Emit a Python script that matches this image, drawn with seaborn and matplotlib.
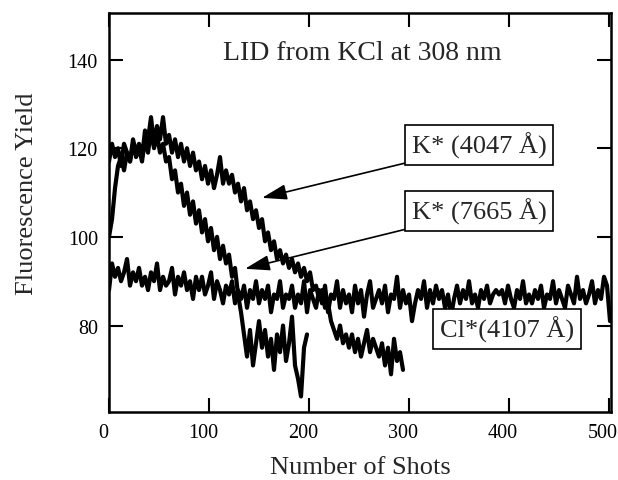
import numpy as np
import pandas as pd
import matplotlib
matplotlib.use("Agg")
import matplotlib.pyplot as plt
import matplotlib.transforms as mtransforms
import seaborn as sns

# ---- data (one value every 3 shots) ----
shot_step = 3

cl_4107 = [
    88, 94, 91, 93, 90, 92, 95, 89, 92, 90,
    93, 89, 91, 88, 92, 90, 94, 88, 91, 89,
    90, 93, 87, 91, 89, 92, 88, 90, 86, 91,
    88, 91, 87, 89, 92, 86, 90, 88, 85, 89,
    87, 90, 85, 88, 86, 89, 84, 88, 86, 90,
    85, 88, 86, 89, 83, 87, 86, 90, 84, 87,
    86, 89, 84, 87, 85, 90, 83, 88, 86, 84,
    88, 85, 89, 83, 87, 86, 90, 84, 88, 85,
    87, 83, 89, 85, 88, 82, 87, 90, 84, 86,
    88, 85, 89, 83, 87, 86, 91, 84, 88, 85,
    87, 81, 85, 88, 86, 90, 84, 88, 85, 89,
    86, 88, 84, 87, 82, 86, 89, 85, 88, 86,
    90, 85, 87, 84, 88, 86, 89, 85, 87, 88,
    87, 88, 85, 89, 86, 84, 88, 86, 90, 85,
    87, 85, 88, 86, 89, 84, 87, 86, 90, 85,
    88, 86, 84, 89, 87, 85, 91, 86, 88, 85,
    87, 90, 85, 88, 86, 91, 89, 81,
]

k_4047 = [
    117, 121, 118, 120, 116, 121, 119, 117, 122, 119,
    121, 118, 124, 122, 127, 121, 125, 122, 127, 121,
    123, 119, 122, 118, 121, 117, 120, 116, 119, 115,
    117, 113, 116, 112, 115, 111, 114, 118, 112, 115,
    112, 114, 110, 112, 108, 111, 106, 108, 104, 106,
    102, 104, 99, 101, 97, 99, 95, 97, 94, 96,
    93, 95, 92, 94, 91, 93, 90, 92, 88, 89,
    86, 88, 84, 85, 81, 79, 77, 80, 76, 78,
    75, 78, 74, 77, 73, 76, 79, 74, 77, 75,
    73, 76, 71, 75, 69, 77, 72, 74, 70,
]

k_7665 = [
    100, 104, 111, 116, 118, 115, 119, 117, 121, 118,
    120, 117, 122, 119, 124, 120, 123, 119, 121, 117,
    118, 113, 115, 110, 112, 107, 110, 105, 108, 103,
    106, 101, 104, 99, 102, 97, 100, 95, 98, 94,
    96, 91, 93, 87, 83, 78, 73, 79, 71, 76,
    81, 75, 79, 73, 77, 70, 78, 74, 80, 72,
    76, 82, 71, 68, 64, 75, 78,
]

series = {
    "Cl*(4107 Å)": cl_4107,
    "K* (4047 Å)": k_4047,
    "K* (7665 Å)": k_7665,
}

rows = []
for name, vals in series.items():
    for i, v in enumerate(vals):
        rows.append({"series": name, "shots": i * shot_step, "yield": v})
df = pd.DataFrame(rows)

# ---- style ----
sns.set_theme(style="ticks")
plt.rcParams['font.family'] = ['Liberation Serif', 'DejaVu Serif']

fig = plt.figure(figsize=(6.18, 4.81), dpi=100)
ax = fig.add_axes([0.1764, 0.1414, 0.8123, 0.8295])

for name in series:
    sub = df[df["series"] == name]
    sns.lineplot(data=sub, x="shots", y="yield", ax=ax, color="black",
                 linewidth=3.0, estimator=None, sort=False, legend=False)

ax.set_xlim(0, 502)
ax.set_ylim(60.5, 150.5)
ax.set_xticks([0, 100, 200, 300, 400, 500])
ax.set_yticks([80, 100, 120, 140])
ax.tick_params(axis="both", direction="in", length=10, width=1.5,
               top=True, right=True, labelsize=14.5, pad=8, colors="black")
for sp in ax.spines.values():
    sp.set_linewidth(1.8)
    sp.set_color("black")

# the scanned tick labels sit a little left of their ticks
shift = mtransforms.ScaledTranslation(-6 / 100, 0, fig.dpi_scale_trans)
for lab in ax.get_xticklabels():
    lab.set_transform(lab.get_transform() + shift)

ax.set_xlabel("Number of Shots", fontsize=19, labelpad=10)
ax.set_ylabel("Fluorescence Yield", fontsize=19)
ax.yaxis.set_label_coords(-0.141, 0.549)

ax.text(253, 141.5, "LID from KCl at 308 nm", fontsize=20,
        ha="center", va="center")

box = dict(boxstyle="square,pad=0.25", fc="white", ec="black", lw=1.2)
arrow = dict(arrowstyle="-|>,head_length=0.8,head_width=0.25",
             color="black", lw=1.2, shrinkA=0, shrinkB=0)
ax.annotate("K* (4047 Å)", xy=(153, 108.8), xytext=(370, 120.7),
            fontsize=19, ha="center", va="center", bbox=box,
            arrowprops=arrow)
ax.annotate("K* (7665 Å)", xy=(136, 92.8), xytext=(370, 105.8),
            fontsize=19, ha="center", va="center", bbox=box,
            arrowprops=arrow)
ax.text(398, 79.2, "Cl*(4107 Å)", fontsize=19, ha="center", va="center",
        bbox=box)

fig.savefig("out.png", dpi=100)
